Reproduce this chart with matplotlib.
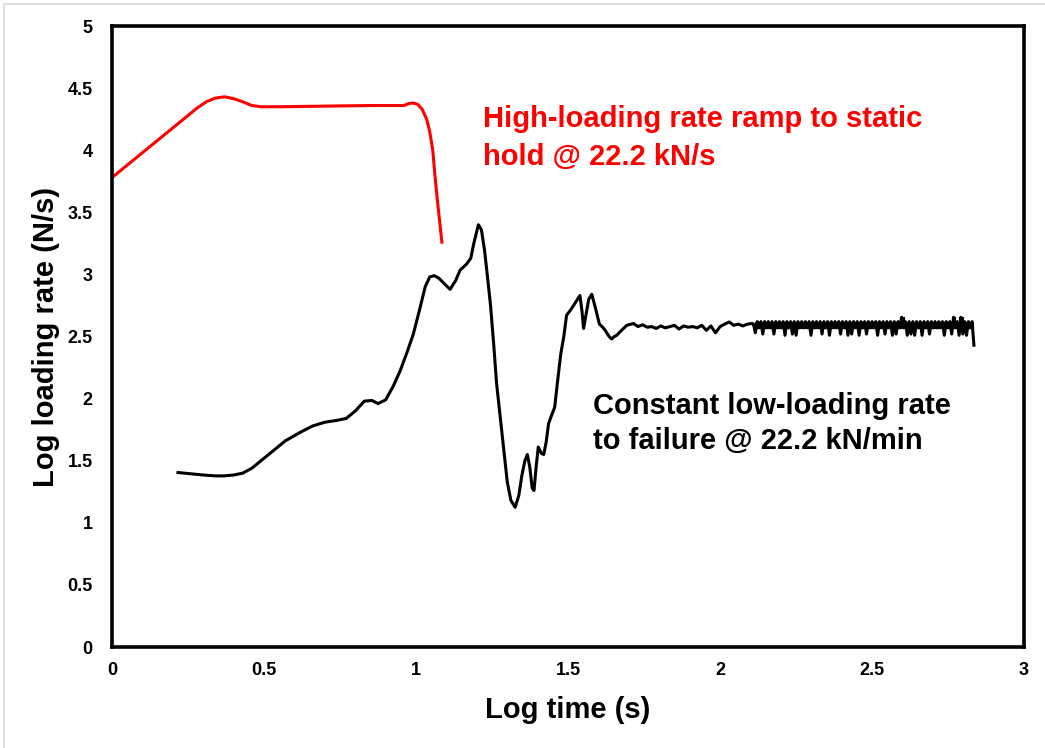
import numpy as np
import matplotlib
matplotlib.use("Agg")
import matplotlib.pyplot as plt
from matplotlib.patches import Rectangle
from matplotlib.ticker import FuncFormatter

plt.rcParams['font.family'] = ['Liberation Sans', 'DejaVu Sans']

# High-loading rate ramp to static hold (log time, log loading rate)
ramp_x = [0.0, 0.05, 0.10, 0.15, 0.20, 0.25, 0.28, 0.31, 0.34, 0.37, 0.40, 0.43,
          0.46, 0.49, 0.55, 0.70, 0.85, 0.96, 0.975, 0.99, 1.005, 1.02, 1.035,
          1.045, 1.055, 1.062, 1.07, 1.078, 1.085]
ramp_y = [3.78, 3.88, 3.98, 4.08, 4.18, 4.28, 4.34, 4.39, 4.42, 4.43, 4.415, 4.39,
          4.36, 4.35, 4.35, 4.355, 4.36, 4.36, 4.375, 4.38, 4.37, 4.33, 4.25,
          4.15, 4.00, 3.80, 3.60, 3.42, 3.26]

# Constant low-loading rate to failure: transient start-up portion
const_x = [0.217, 0.26, 0.30, 0.34, 0.37, 0.40, 0.43, 0.46, 0.49, 0.53, 0.57, 0.62,
           0.66, 0.70, 0.74, 0.77, 0.80, 0.83, 0.855, 0.875, 0.90, 0.925, 0.947, 0.97,
           0.991, 1.01, 1.03, 1.045, 1.06, 1.075, 1.095, 1.112, 1.13, 1.145, 1.165, 1.18,
           1.19, 1.205, 1.215, 1.225, 1.235, 1.245, 1.255, 1.265, 1.277, 1.29, 1.30, 1.312,
           1.326, 1.338, 1.348, 1.358, 1.366, 1.374, 1.382, 1.388, 1.395, 1.402, 1.412, 1.42,
           1.428, 1.436, 1.448, 1.456, 1.466, 1.476, 1.486, 1.495, 1.51, 1.523, 1.539, 1.546,
           1.551, 1.558, 1.568, 1.578, 1.59, 1.603, 1.612, 1.622, 1.635, 1.643, 1.652, 1.66,
           1.676, 1.693]
const_y = [1.405, 1.395, 1.385, 1.378, 1.378, 1.385, 1.40, 1.44, 1.50, 1.58, 1.66, 1.73,
           1.78, 1.81, 1.825, 1.84, 1.90, 1.98, 1.985, 1.96, 1.99, 2.10, 2.22, 2.37,
           2.52, 2.70, 2.90, 2.98, 2.99, 2.97, 2.92, 2.88, 2.95, 3.035, 3.08, 3.13,
           3.25, 3.40, 3.36, 3.20, 2.98, 2.75, 2.45, 2.12, 1.85, 1.55, 1.33, 1.18,
           1.125, 1.22, 1.38, 1.50, 1.55, 1.45, 1.28, 1.26, 1.45, 1.61, 1.56, 1.55,
           1.65, 1.80, 1.88, 1.93, 2.15, 2.36, 2.50, 2.67, 2.72, 2.77, 2.83, 2.70,
           2.565, 2.66, 2.80, 2.84, 2.73, 2.60, 2.58, 2.55, 2.50, 2.48, 2.50, 2.51,
           2.55, 2.59]

# Steady state, coarse sampling (log time 1.715 to 2.105)
steady_range = (1.715, 2.105)
steady_y = [2.605, 2.58, 2.595, 2.575, 2.58, 2.565, 2.585, 2.57, 2.58, 2.59, 2.56,
            2.585, 2.575, 2.58, 2.57, 2.59, 2.55, 2.585, 2.53, 2.58, 2.60, 2.617,
            2.59, 2.60, 2.585, 2.60, 2.605]

# Steady state, dense sampling (log time 2.11 to 2.835)
dense_range = (2.11, 2.835)
dense_y = [2.60, 2.53, 2.62, 2.57, 2.62, 2.52, 2.62, 2.57, 2.62, 2.57,
           2.62, 2.52, 2.62, 2.57, 2.62, 2.57, 2.62, 2.51, 2.62, 2.57,
           2.62, 2.52, 2.62, 2.51, 2.62, 2.57, 2.62, 2.57, 2.62, 2.57,
           2.62, 2.51, 2.62, 2.57, 2.62, 2.57, 2.62, 2.52, 2.62, 2.57,
           2.62, 2.51, 2.62, 2.57, 2.62, 2.57, 2.62, 2.52, 2.62, 2.57,
           2.62, 2.51, 2.62, 2.52, 2.62, 2.57, 2.62, 2.51, 2.62, 2.57,
           2.62, 2.52, 2.62, 2.57, 2.62, 2.57, 2.62, 2.51, 2.62, 2.57,
           2.62, 2.52, 2.62, 2.57, 2.62, 2.51, 2.62, 2.52, 2.62, 2.57,
           2.655, 2.57, 2.62, 2.51, 2.62, 2.52, 2.62, 2.51, 2.62, 2.57,
           2.62, 2.51, 2.62, 2.57, 2.62, 2.52, 2.62, 2.57, 2.62, 2.57,
           2.62, 2.57, 2.62, 2.51, 2.62, 2.57, 2.62, 2.52, 2.655, 2.57,
           2.62, 2.51, 2.655, 2.52, 2.62, 2.51, 2.62, 2.57, 2.62, 2.43]

x_ticks = [0, 0.5, 1, 1.5, 2, 2.5, 3]
y_ticks = [0, 0.5, 1, 1.5, 2, 2.5, 3, 3.5, 4, 4.5, 5]

fig = plt.figure(figsize=(10.45, 7.48), dpi=100)
ax = fig.add_axes([0.1072, 0.135, 0.8728, 0.8302])

# light chart-area border
fig.patches.append(Rectangle((0.004, -0.01), 1.2, 1.005, transform=fig.transFigure,
                             fill=False, edgecolor='#d9d9d9', linewidth=1.2))

steady_x = np.linspace(steady_range[0], steady_range[1], len(steady_y))
dense_x = np.linspace(dense_range[0], dense_range[1], len(dense_y))
low_x = np.concatenate([const_x, steady_x, dense_x])
low_y = np.concatenate([const_y, steady_y, dense_y])

ax.plot(ramp_x, ramp_y, color='#ff0000', linewidth=2.2, solid_joinstyle='round')
ax.plot(low_x, low_y, color='black', linewidth=2.2, solid_joinstyle='round')

# the densely sampled trace overlaps into a solid band: fill the span between
# neighbouring samples down to the typical trough level, leaving the deeper
# troughs to show as spikes of the trace itself
dy = np.asarray(dense_y)
trough_level = np.median(dy[1::2])
pair_x = 0.5 * (dense_x[:-1] + dense_x[1:])
pair_lo = np.maximum(np.minimum(dy[:-1], dy[1:]), trough_level)
pair_hi = np.maximum(dy[:-1], dy[1:])
ax.fill_between(pair_x, pair_lo, pair_hi, step='mid', color='black', linewidth=0.8)

ax.set_xlim(0, 3)
ax.set_ylim(0, 5)
ax.set_xticks(x_ticks)
ax.set_yticks(y_ticks)
fmt = FuncFormatter(lambda v, p: f"{v:g}")
ax.xaxis.set_major_formatter(fmt)
ax.yaxis.set_major_formatter(fmt)
ax.tick_params(length=0, labelsize=13)
ax.tick_params(axis='x', pad=11)
ax.tick_params(axis='y', pad=14)
for lab in ax.get_xticklabels() + ax.get_yticklabels():
    lab.set_fontweight('bold')

for s in ax.spines.values():
    s.set_linewidth(2.6)
    s.set_color('black')

ax.set_xlabel('Log time (s)', fontsize=21, fontweight='bold', labelpad=12)
ax.set_ylabel('Log loading rate (N/s)', fontsize=21, fontweight='bold', labelpad=5)

ax.text(1.22, 4.095, 'High-loading rate ramp to static\nhold @ 22.2 kN/s',
        color='#ff0000', fontsize=21, fontweight='bold', ha='left', va='center',
        linespacing=1.45)
ax.text(1.582, 1.80, 'Constant low-loading rate\nto failure @ 22.2 kN/min',
        color='black', fontsize=21, fontweight='bold', ha='left', va='center',
        linespacing=1.3)

fig.savefig('out.png', dpi=100)
